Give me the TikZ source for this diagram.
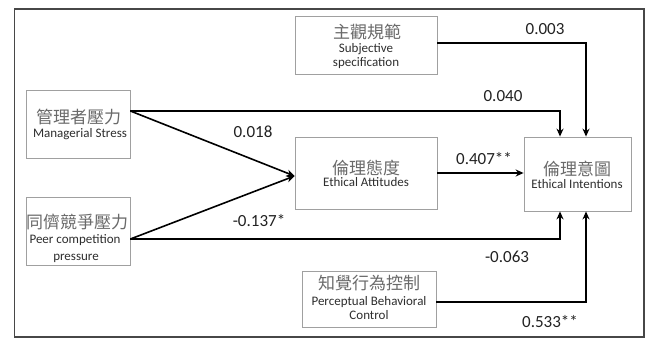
\documentclass[tikz,border=0pt]{standalone}
\usepackage{fontspec}
\setmainfont{Carlito}
\newfontfamily\zh{Noto Sans CJK TC}
\usetikzlibrary{arrows.meta}
\definecolor{framec}{HTML}{474747}
\definecolor{boxc}{HTML}{A0A0A0}
\definecolor{zhc}{HTML}{6A6A6A}
\definecolor{enc}{HTML}{2E2E2E}
\definecolor{numc}{HTML}{222222}
\tikzset{
  varbox/.style={draw=boxc, line width=0.8pt, fill=white, inner sep=0pt, anchor=center},
  zhline/.style={text=zhc, font=\zh\fontsize{17}{19}\selectfont, inner sep=0pt,
    text height=15pt, text depth=2pt, anchor=center},
  enline/.style={text=enc, font=\fontsize{13}{15}\selectfont, inner sep=0pt,
    text height=9pt, text depth=3pt, anchor=center},
  path/.style={line width=1.6pt, draw=black, -{Stealth[length=8pt,width=7pt]}},
  coef/.style={text=numc, font=\fontsize{17}{19}\selectfont, inner sep=0pt,
    text height=12pt, text depth=0pt, anchor=center}
}
\begin{document}
\begin{tikzpicture}[x=1pt,y=-1pt]
\useasboundingbox (0,0) rectangle (652,340);
\fill[white] (0,0) rectangle (652,340);
\draw[framec, line width=1.8pt] (14.5,9) rectangle (644,337);

% variable boxes
\node[varbox, minimum width=104pt, minimum height=68pt] (ms) at (78,124) {};
\node[varbox, minimum width=104pt, minimum height=68pt] (pc) at (78,231) {};
\node[varbox, minimum width=142pt, minimum height=58pt] (ss) at (366,45) {};
\node[varbox, minimum width=142pt, minimum height=72pt] (ea) at (366,173) {};
\node[varbox, minimum width=107pt, minimum height=74pt] (ei) at (577.5,174) {};
\node[varbox, minimum width=134pt, minimum height=56pt] (pb) at (369,299) {};

% box texts
\node[zhline] (ms-zh) at (78.5,117) {管理者壓力};
\node[enline] (ms-en) at (80,134.5) {Managerial Stress};
\node[zhline] (pc-zh) at (77,222) {同儕競爭壓力};
\node[enline] (pc-en1) at (75,240.5) {Peer competition};
\node[enline] (pc-en2) at (76,257) {pressure};
\node[zhline] (ss-zh) at (367,32) {主觀規範};
\node[enline] (ss-en1) at (366,49) {Subjective};
\node[enline] (ss-en2) at (366,63) {specification};
\node[zhline] (ea-zh) at (366,168) {倫理態度};
\node[enline] (ea-en) at (366,183.5) {Ethical Attitudes};
\node[zhline] (ei-zh) at (577,169) {倫理意圖};
\node[enline] (ei-en) at (577,185) {Ethical Intentions};
\node[zhline] (pb-zh) at (369,283) {知覺行為控制};
\node[enline] (pb-en1) at (369,302.5) {Perceptual Behavioral};
\node[enline] (pb-en2) at (369,316) {Control};

% paths
\draw[path] ([yshift=13pt]ms.east) -- ([yshift=-3pt]ea.west);
\draw[path] ([yshift=-8pt]pc.east) -- ([yshift=-3pt]ea.west);
\draw[path] ([yshift=13pt]ms.east) -| ([xshift=-17.5pt]ei.north);
\draw[path] ([yshift=2pt]ss.east) -| ([xshift=8.5pt]ei.north);
\draw[path] ([yshift=-8pt]pc.east) -| ([xshift=-17.5pt]ei.south);
\draw[path] ([yshift=-3pt]pb.east) -| ([xshift=8.5pt]ei.south);
\draw[path] (ea.east) -- (ea.east -| ei.west);

% coefficients
\node[coef] (c1) at (253,131) {0.018};
\node[coef] (c2) at (259,220) {-0.137*};
\node[coef] (c3) at (503,95) {0.040};
\node[coef] (c4) at (545,28) {0.003};
\node[coef] (c5) at (484,158) {0.407**};
\node[coef] (c6) at (507,256) {-0.063};
\node[coef] (c7) at (550,321) {0.533**};
\end{tikzpicture}
\end{document}
